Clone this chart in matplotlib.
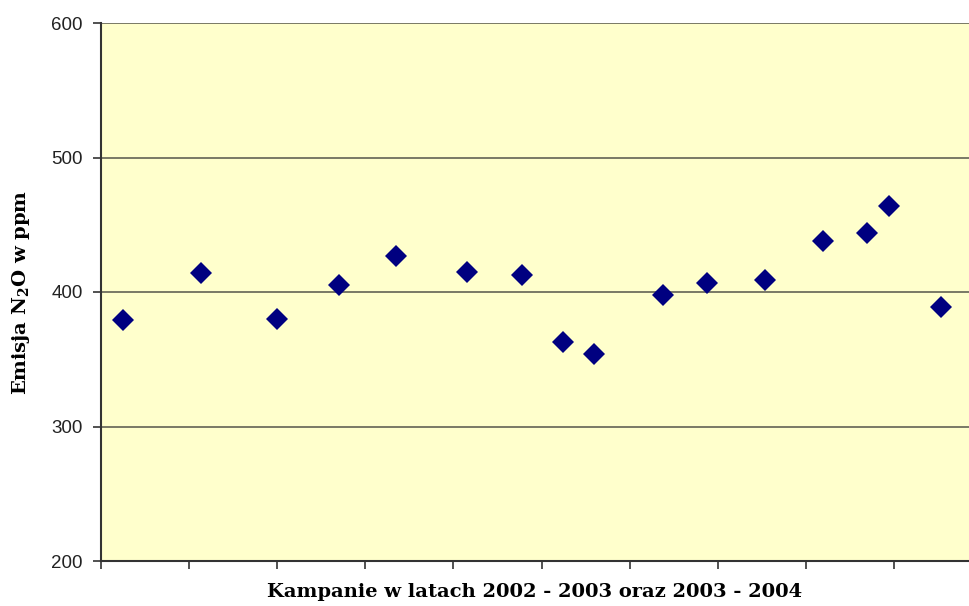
import matplotlib.pyplot as plt

kampanie = [0.25, 1.13, 2.0, 2.7, 3.35, 4.15, 4.78, 5.24, 5.59, 6.38,
            6.88, 7.53, 8.19, 8.69, 8.94, 9.53]
emisja = [379, 414, 380, 405, 427, 415, 413, 363, 354, 398,
          407, 409, 438, 444, 464, 389]
y_ticks = [200, 300, 400, 500, 600]

plt.rcParams['mathtext.fontset'] = 'custom'
plt.rcParams['mathtext.rm'] = 'DejaVu Serif:bold'
plt.rcParams['mathtext.it'] = 'DejaVu Serif:bold'

fig = plt.figure(figsize=(9.69, 6.06), dpi=100)
ax = fig.add_axes([101/969, 45/606, 868/969, 538/606])
ax.set_facecolor('#FFFFCC')

ax.plot(kampanie, emisja, 'D', color='#000080', markersize=11.5,
        markeredgewidth=0, zorder=3)

ax.set_xlim(0, 9.85)
ax.set_ylim(200, 600)
ax.set_xticks(range(0, 10))
ax.set_xticklabels([])
ax.set_yticks(y_ticks)
ax.set_yticklabels([str(v) for v in y_ticks], fontfamily='Liberation Sans',
                   fontsize=13.5, color='#222222')
ax.grid(axis='y', color='#6E6E5E', linewidth=1.3)
ax.tick_params(axis='both', direction='out', length=6, width=1.2,
               color='#333333', pad=7)

for s in ['top', 'right']:
    ax.spines[s].set_visible(False)
for s in ['left', 'bottom']:
    ax.spines[s].set_color('#333333')
    ax.spines[s].set_linewidth(1.5)

ax.set_xlabel('Kampanie w latach 2002 - 2003 oraz 2003 - 2004',
              fontfamily='DejaVu Serif', fontweight='bold', fontsize=14,
              labelpad=3)
ax.set_ylabel('Emisja N$_2$O w ppm', fontfamily='DejaVu Serif',
              fontweight='bold', fontsize=14, labelpad=14)

fig.savefig('out.png', dpi=100)
